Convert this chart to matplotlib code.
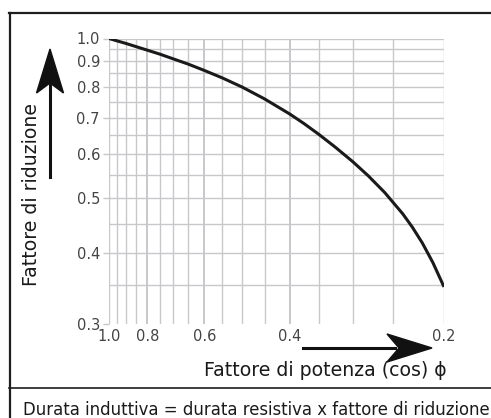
import numpy as np
import matplotlib
matplotlib.use("Agg")
import matplotlib.pyplot as plt
from matplotlib.patches import Polygon
from matplotlib.lines import Line2D
from matplotlib.ticker import FixedLocator, NullFormatter

# ---- data ----
power_factor = [1.0, 0.95, 0.9, 0.85, 0.8, 0.75, 0.7, 0.65, 0.6, 0.55, 0.5,
                0.45, 0.4, 0.375, 0.35, 0.325, 0.3, 0.28, 0.26, 0.24, 0.23,
                0.22, 0.21, 0.2]
reduction = [1.0, 0.988, 0.975, 0.960, 0.944, 0.927, 0.907, 0.886, 0.861,
             0.833, 0.800, 0.760, 0.712, 0.684, 0.653, 0.619, 0.582, 0.549,
             0.512, 0.469, 0.444, 0.416, 0.384, 0.348]

x_ticks = [1.0, 0.8, 0.6, 0.4, 0.2]
x_ticklabels = ["1.0", "0.8", "0.6", "0.4", "0.2"]
x_grid = [1.0, 0.95, 0.9, 0.85, 0.8, 0.75, 0.7, 0.65, 0.6, 0.55, 0.5, 0.45,
          0.4, 0.35, 0.3, 0.25, 0.2]
y_ticks = [0.3, 0.4, 0.5, 0.6, 0.7, 0.8, 0.9, 1.0]
y_ticklabels = ["0.3", "0.4", "0.5", "0.6", "0.7", "0.8", "0.9", "1.0"]
y_grid = [0.35, 0.4, 0.45, 0.5, 0.55, 0.6, 0.65, 0.7, 0.75, 0.8, 0.85, 0.9,
          0.95, 1.0]

y_label = "Fattore di riduzione"
x_label = "Fattore di potenza (cos) \u03d5"
caption = "Durata induttiva = durata resistiva x fattore di riduzione"

FONT = ["DejaVu Sans"]
plt.rcParams["font.family"] = FONT

W, H = 491, 418
fig = plt.figure(figsize=(W / 100, H / 100), dpi=100)


def fx(px, py):
    return px / W, 1 - py / H


# ---- scales ----
PX, PY = 1.095, 1.05


def _pw(l, p):
    return np.sign(l) * np.abs(l) ** p


def x_fwd(x):
    x = np.clip(np.asarray(x, dtype=float), 1e-6, None)
    return -_pw(-np.log(x), PX)


def x_inv(u):
    return np.exp(-_pw(-np.asarray(u, dtype=float), 1 / PX))


def y_fwd(y):
    y = np.clip(np.asarray(y, dtype=float), 1e-6, None)
    return -_pw(-np.log(y), PY)


def y_inv(u):
    return np.exp(-_pw(-np.asarray(u, dtype=float), 1 / PY))


left, right, top, bottom = 109, 444, 38.5, 323.7
ax = fig.add_axes([left / W, 1 - bottom / H, (right - left) / W, (bottom - top) / H])
ax.set_xscale("function", functions=(x_fwd, x_inv))
ax.set_yscale("function", functions=(y_fwd, y_inv))
ax.set_xlim(1.0, 0.2)
ax.set_ylim(0.3, 1.0)

grid_c = "#c8c8cc"
for gx in x_grid:
    lw = 1.4 if gx in (0.8, 0.6, 0.4) else 1.0
    ax.axvline(gx, color=grid_c, lw=lw, zorder=1)
for gy in y_grid:
    ax.axhline(gy, color=grid_c, lw=1.0, zorder=1)

ax.plot(power_factor, reduction, color="#1a1a1a", lw=2.2, zorder=3,
        solid_capstyle="butt", solid_joinstyle="round")

for s in ax.spines.values():
    s.set_visible(False)

ax.xaxis.set_major_locator(FixedLocator(x_ticks))
ax.set_xticklabels(x_ticklabels)
ax.xaxis.set_minor_locator(FixedLocator([]))
ax.xaxis.set_minor_formatter(NullFormatter())
ax.yaxis.set_major_locator(FixedLocator(y_ticks))
ax.set_yticklabels(y_ticklabels)
ax.yaxis.set_minor_locator(FixedLocator([]))
ax.yaxis.set_minor_formatter(NullFormatter())
ax.tick_params(axis="x", length=0, pad=3.5, labelsize=10.5, labelcolor="#444444")
ax.tick_params(axis="y", length=4.5, width=1.0, color=grid_c, pad=2,
               labelsize=10.5, labelcolor="#444444")
ax.set_facecolor("none")

# ---- labels ----
fig.text(*fx(32, 194), y_label, rotation=90, ha="center", va="center",
         fontsize=13.6, color="#1a1a1a")
fig.text(*fx(447, 370), x_label, ha="right", va="center",
         fontsize=13.6, color="#1a1a1a")
fig.text(*fx(256, 410), caption, ha="center", va="center",
         fontsize=11.9, color="#1a1a1a")

# ---- frame ----
fc = "#1e1e1e"
fig.add_artist(Line2D([9 / W, 1.0], [1 - 13 / H] * 2, color=fc, lw=1.6,
                      transform=fig.transFigure))
fig.add_artist(Line2D([10 / W] * 2, [1 - 13 / H, 0], color=fc, lw=1.6,
                      transform=fig.transFigure))
fig.add_artist(Line2D([9 / W, 1.0], [1 - 388 / H] * 2, color=fc, lw=1.2,
                      transform=fig.transFigure))

# ---- arrows ----
ac = "#111111"
fig.add_artist(Line2D([50 / W] * 2, [1 - 177 / H, 1 - 85 / H], color=ac,
                      lw=2.2, transform=fig.transFigure))
up_head = [fx(50, 49), fx(63.5, 93), fx(50, 83), fx(36.5, 93)]
fig.add_artist(Polygon(up_head, closed=True, color=ac, transform=fig.transFigure))

fig.add_artist(Line2D([303 / W, 395 / W], [1 - 348 / H] * 2, color=ac,
                      lw=2.2, transform=fig.transFigure))
r_head = [fx(432, 348), fx(387, 362), fx(399, 348), fx(387, 334)]
fig.add_artist(Polygon(r_head, closed=True, color=ac, transform=fig.transFigure))

fig.savefig("out.png", dpi=100)
